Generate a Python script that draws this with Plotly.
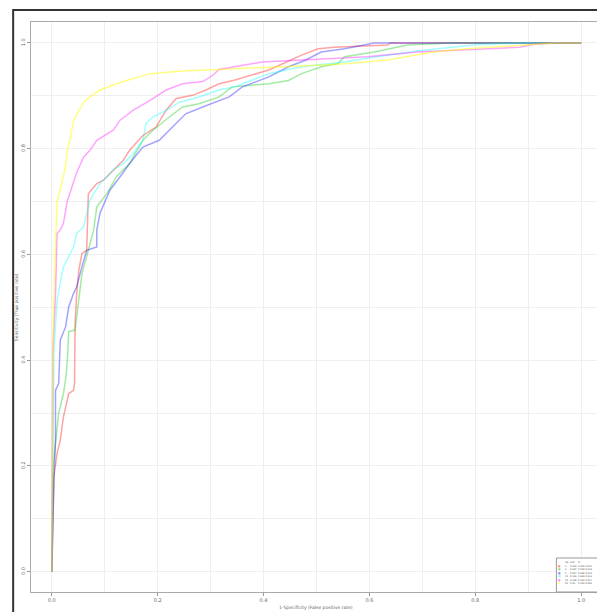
import plotly.graph_objects as go

# ---- data ----
var_labels = ["2", "3", "5", "10", "20", "50"]
auc_labels = ["0.918", "0.897", "0.904", "0.916", "0.938", "0.95"]
ci_labels = ["0.902-0.934", "0.878-0.916", "0.886-0.922", "0.899-0.933", "0.922-0.954", "0.935-0.965"]
colors = ["rgba(255,0,0,0.36)", "rgba(0,200,0,0.36)", "rgba(0,0,255,0.36)",
          "rgba(0,255,255,0.36)", "rgba(255,0,255,0.36)", "rgba(255,255,0,0.5)"]
legend_marker_colors = ["#ff8080", "#80e080", "#8080ff", "#80ffff", "#ff80ff", "#ffff70"]

fpr_red = [0, 0.002, 0.004, 0.010, 0.016, 0.022, 0.032, 0.041, 0.043, 0.044, 0.047, 0.051, 0.057, 0.066,
           0.069, 0.085, 0.097, 0.135, 0.147, 0.172, 0.197, 0.216, 0.235, 0.266, 0.291, 0.316, 0.346,
           0.41, 0.472, 0.503, 0.534, 0.634, 0.64, 1.0]
tpr_red = [0, 0.129, 0.18, 0.224, 0.249, 0.293, 0.337, 0.343, 0.356, 0.47, 0.526, 0.57, 0.602, 0.608,
           0.715, 0.734, 0.740, 0.778, 0.797, 0.825, 0.841, 0.873, 0.895, 0.901, 0.911, 0.923, 0.930,
           0.949, 0.977, 0.989, 0.992, 0.996, 1.0, 1.0]

fpr_green = [0, 0.002, 0.007, 0.013, 0.022, 0.026, 0.029, 0.032, 0.044, 0.051, 0.057, 0.069, 0.079,
             0.085, 0.104, 0.122, 0.147, 0.172, 0.191, 0.222, 0.247, 0.278, 0.316, 0.341, 0.41, 0.447,
             0.472, 0.509, 0.541, 0.553, 0.609, 0.672, 0.753, 1.0]
tpr_green = [0, 0.19, 0.243, 0.30, 0.337, 0.363, 0.394, 0.454, 0.457, 0.514, 0.564, 0.608, 0.646,
             0.69, 0.715, 0.747, 0.772, 0.816, 0.835, 0.86, 0.879, 0.885, 0.898, 0.917, 0.923, 0.929,
             0.942, 0.955, 0.961, 0.974, 0.983, 0.996, 1.0, 1.0]

fpr_blue = [0, 0.002, 0.004, 0.007, 0.007, 0.013, 0.016, 0.026, 0.032, 0.041, 0.047, 0.057, 0.066,
            0.085, 0.085, 0.091, 0.11, 0.129, 0.147, 0.172, 0.203, 0.228, 0.253, 0.285, 0.316, 0.335,
            0.36, 0.41, 0.447, 0.478, 0.509, 0.553, 0.609, 1.0]
tpr_blue = [0, 0.098, 0.173, 0.249, 0.343, 0.356, 0.438, 0.463, 0.501, 0.526, 0.539, 0.577, 0.608,
            0.614, 0.646, 0.678, 0.722, 0.747, 0.772, 0.803, 0.816, 0.841, 0.866, 0.879, 0.891, 0.898,
            0.917, 0.936, 0.955, 0.967, 0.983, 0.989, 1.0, 1.0]

fpr_cyan = [0, 0.004, 0.01, 0.022, 0.041, 0.047, 0.06, 0.072, 0.091, 0.116, 0.135, 0.154, 0.172,
            0.178, 0.191, 0.222, 0.241, 0.278, 0.316, 0.346, 0.41, 0.472, 0.552, 0.60, 0.69, 0.796,
            0.878, 1.0]
tpr_cyan = [0, 0.419, 0.514, 0.577, 0.614, 0.64, 0.652, 0.703, 0.734, 0.76, 0.772, 0.791, 0.816,
            0.848, 0.860, 0.876, 0.888, 0.898, 0.911, 0.917, 0.942, 0.955, 0.964, 0.972, 0.985, 0.996,
            1.0, 1.0]

fpr_magenta = [0, 0.002, 0.007, 0.010, 0.016, 0.022, 0.029, 0.047, 0.06, 0.072, 0.085, 0.116, 0.129,
               0.154, 0.185, 0.216, 0.247, 0.285, 0.303, 0.316, 0.397, 0.47, 0.596, 0.69, 0.815,
               0.884, 0.909, 0.95, 1.0]
tpr_magenta = [0, 0.42, 0.526, 0.64, 0.646, 0.659, 0.70, 0.755, 0.784, 0.797, 0.816, 0.835, 0.854,
               0.873, 0.891, 0.911, 0.923, 0.927, 0.938, 0.950, 0.964, 0.968, 0.974, 0.983, 0.989,
               0.992, 0.997, 1.0, 1.0]

fpr_yellow = [0, 0.002, 0.004, 0.007, 0.01, 0.02, 0.026, 0.029, 0.035, 0.041, 0.05, 0.06, 0.075,
              0.091, 0.115, 0.141, 0.185, 0.247, 0.316, 0.40, 0.50, 0.56, 0.634, 0.721, 0.784, 0.909,
              0.95, 1.0]
tpr_yellow = [0, 0.42, 0.53, 0.64, 0.70, 0.74, 0.766, 0.797, 0.82, 0.854, 0.87, 0.888, 0.90, 0.911,
              0.92, 0.929, 0.942, 0.947, 0.950, 0.953, 0.958, 0.961, 0.968, 0.983, 0.989, 0.997,
              1.0, 1.0]

x_tick_vals = [0.0, 0.2, 0.4, 0.6, 0.8, 1.0]
x_tick_text = ["0.0", "0.2", "0.4", "0.6", "0.8", "1.0"]
y_tick_vals = [0.0, 0.2, 0.4, 0.6, 0.8, 1.0]
y_tick_text = ["0.0", "0.2", "0.4", "0.6", "0.8", "1.0"]
x_title = "1-Specificity (False positive rate)"
y_title = "Sensitivity (True positive rate)"
legend_header = ["Var", "AUC", "CI"]

curves = [(fpr_red, tpr_red), (fpr_green, tpr_green), (fpr_blue, tpr_blue),
          (fpr_cyan, tpr_cyan), (fpr_magenta, tpr_magenta), (fpr_yellow, tpr_yellow)]

# ---- figure ----
# the page body adds an 8 px offset; target positions below are in window pixels
OFF = 8
W, H = 605, 612
PL, PR, PT, PB = 27, 601, 22, 592       # plot box in window pixels
L, T = PL - OFF, PT - OFF
R = W - (PR - OFF)
B = H - (PB - OFF)
pw, ph = W - L - R, H - T - B

def px_x(p):
    return (p - OFF - L) / pw

def px_y(p):
    return (H - B - (p - OFF)) / ph

fig = go.Figure()
for (fx, ty), c, v in zip(curves, colors, var_labels):
    fig.add_trace(go.Scatter(x=fx, y=ty, mode="lines", name=v,
                             line=dict(color=c, width=1.5), showlegend=False,
                             hoverinfo="skip"))

tickfont = dict(family="DejaVu Sans", size=5, color="#666666")
grid = "#efefef"
fig.update_xaxes(range=[-0.0393, 1.0356], tickvals=x_tick_vals, ticktext=x_tick_text,
                 tickfont=tickfont, ticks="outside", ticklen=3, tickcolor="#999999",
                 showline=True, mirror=True, linecolor="#aaaaaa", linewidth=1.2,
                 showgrid=True, gridcolor=grid, gridwidth=1, zeroline=False,
                 minor=dict(dtick=0.1, tick0=0, showgrid=True, gridcolor=grid, ticks=""))
fig.update_yaxes(range=[-0.0384, 1.0397], tickvals=y_tick_vals, ticktext=y_tick_text,
                 tickfont=tickfont, tickangle=-90, ticks="outside", ticklen=3,
                 tickcolor="#999999",
                 showline=True, mirror=True, linecolor="#aaaaaa", linewidth=1.2,
                 showgrid=True, gridcolor=grid, gridwidth=1, zeroline=False,
                 minor=dict(dtick=0.1, tick0=0, showgrid=True, gridcolor=grid, ticks=""))

shapes = [
    dict(type="rect", xref="paper", yref="paper", x0=px_x(9), x1=px_x(660),
         y0=px_y(680), y1=px_y(10), line=dict(color="#333333", width=2), layer="above"),
    dict(type="rect", xref="paper", yref="paper", x0=px_x(557), x1=px_x(601),
         y0=px_y(592), y1=px_y(558), line=dict(color="#999999", width=1),
         fillcolor="white", layer="above"),
]

annotations = [
    dict(text=x_title, xref="paper", yref="paper", x=0.5, y=px_y(607), showarrow=False,
         font=dict(family="DejaVu Sans", size=4.5, color="#666666"), yanchor="middle"),
    dict(text=y_title, xref="paper", yref="paper", x=px_x(12), y=0.5, showarrow=False,
         textangle=-90, font=dict(family="DejaVu Sans", size=4.5, color="#666666"),
         xanchor="center"),
]
lf = dict(family="DejaVu Sans", size=2.3, color="#555555")
hx = [px_x(563.5), px_x(568.5), px_x(577)]
for t, xx in zip(legend_header, hx):
    annotations.append(dict(text=t, xref="paper", yref="paper", x=xx, y=px_y(562.5),
                            showarrow=False, xanchor="left", yanchor="middle", font=lf))
for i, (v, a, ci, mc) in enumerate(zip(var_labels, auc_labels, ci_labels, legend_marker_colors)):
    yy = px_y(566.5 + i * 3.45)
    annotations.append(dict(text="■", xref="paper", yref="paper", x=px_x(560.5), y=yy,
                            showarrow=False, xanchor="center", yanchor="middle",
                            font=dict(family="DejaVu Sans", size=2.6, color=mc)))
    annotations.append(dict(text=v, xref="paper", yref="paper", x=hx[0], y=yy,
                            showarrow=False, xanchor="left", yanchor="middle", font=lf))
    annotations.append(dict(text=a, xref="paper", yref="paper", x=hx[1], y=yy,
                            showarrow=False, xanchor="left", yanchor="middle", font=lf))
    annotations.append(dict(text=ci, xref="paper", yref="paper", x=hx[2], y=yy,
                            showarrow=False, xanchor="left", yanchor="middle", font=lf))

fig.update_layout(width=W, height=H, margin=dict(l=L, r=R, t=T, b=B, pad=0),
                  paper_bgcolor="white", plot_bgcolor="white",
                  shapes=shapes, annotations=annotations, showlegend=False)

fig.write_html("out.html")
